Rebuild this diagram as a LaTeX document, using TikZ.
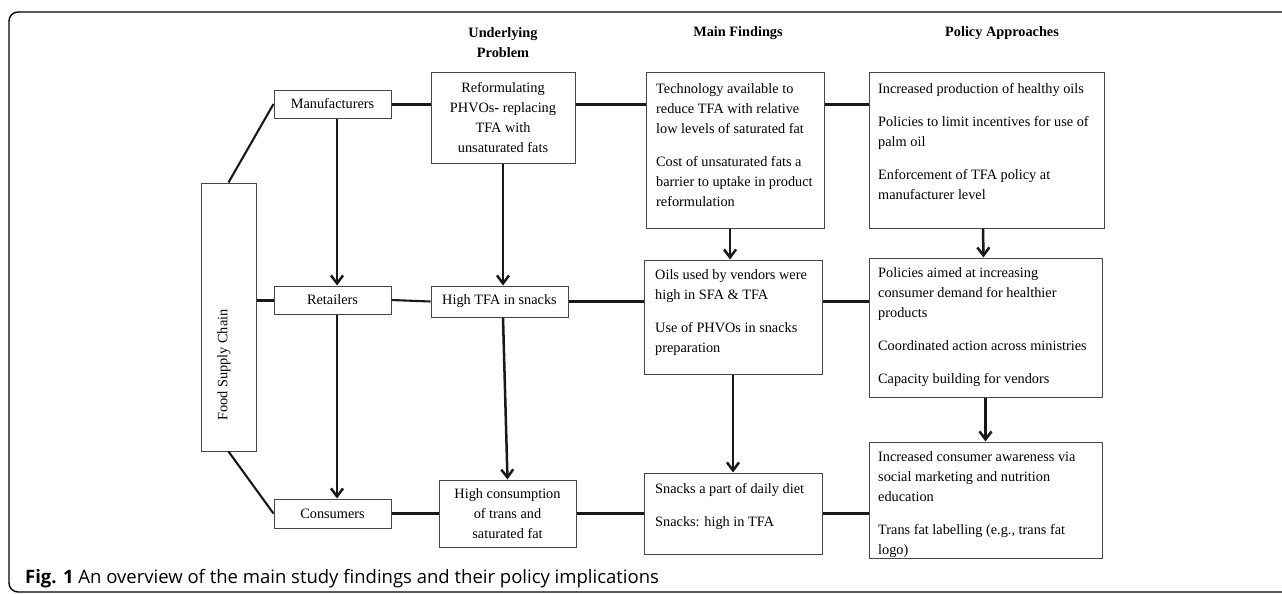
\documentclass[tikz,border=0pt]{standalone}
\usepackage{fontspec}
\setmainfont{Liberation Serif}
\newfontfamily\capfont{Open Sans}
\usetikzlibrary{arrows.meta,calc}
\newcommand\mkbox[6][]{\node[box,#1,minimum width={#4-#2},minimum height={#6-#3}] (#5) at ({(#2+#4)/2},{(#3+#6)/2})}
\begin{document}
\begin{tikzpicture}[x=1pt,y=-1pt,
  box/.style={draw=black!72,line width=1pt,inner sep=0pt,align=center,font=\fontsize{14.3}{20}\selectfont},
  txt/.style={inner sep=0pt,font=\fontsize{14.3}{20}\selectfont,align=left},
  ttl/.style={inner sep=0pt,font=\fontsize{14.3}{20}\selectfont\bfseries,align=center},
  conn/.style={line width=3pt,draw=black!90},
  thinconn/.style={line width=2.1pt,draw=black!90},
  arr/.style={line width=2.5pt,draw=black!90,-{Straight Barb[length=8pt,width=12pt]}}
]
\useasboundingbox (0,0) rectangle (1282,594);
\draw[line width=1.4pt,rounded corners=9pt] (9,12) rectangle (1300,592);

% titles
\node[ttl] (t1) at (503,43) {Underlying\\Problem};
\node[ttl] (t2) at (738,33) {Main Findings};
\node[ttl] (t3) at (1002,33) {Policy Approaches};

% boxes
\mkbox{274}{90}{391}{manu}{118} {Manufacturers};
\mkbox{431}{73}{575}{reform}{163} {Reformulating\\PHVOs{\bfseries-} replacing\\TFA with\\unsaturated fats};
\mkbox{646}{73}{824}{tech}{228} {};
\mkbox{869}{73}{1104}{pol1}{228} {};
\mkbox{201}{183}{256}{fsc}{451} {};
\mkbox{274}{286}{391}{ret}{314} {Retailers};
\mkbox{431}{286}{568}{hitfa}{317} {High TFA in snacks};
\mkbox{644}{260}{822}{oils}{374} {};
\mkbox{869}{258}{1102}{pol2}{397} {};
\mkbox{274}{499}{391}{cons}{528} {Consumers};
\mkbox{439}{480}{576}{hicons}{547} {High consumption\\of trans and\\saturated fat};
\mkbox{644}{473}{822}{snacks}{554} {};
\mkbox{869}{442}{1102}{pol3}{558} {};

% texts inside boxes
\node[txt,anchor=north west] (techt) at (656,83.7) {Technology available to\\reduce TFA with relative\\low levels of saturated fat\\[13pt]Cost of unsaturated fats a\\barrier to uptake in product\\reformulation};
\node[txt,anchor=north west] (pol1t) at (878,83.7) {Increased production of healthy oils\\[13pt]Policies to limit incentives for use of\\palm oil\\[13pt]Enforcement of TFA policy at\\manufacturer level};
\node[txt,anchor=north west] (oilst) at (655,269.7) {Oils used by vendors were\\high in SFA \& TFA\\[13pt]Use of PHVOs in snacks\\preparation};
\node[txt,anchor=north west] (pol2t) at (878,267.7) {Policies aimed at increasing\\consumer demand for healthier\\products\\[13pt]Coordinated action across ministries\\[13pt]Capacity building for vendors};
\node[txt,anchor=north west] (snackst) at (655,483.7) {Snacks a part of daily diet\\[13pt]Snacks: high in TFA};
\node[txt,anchor=north west] (pol3t) at (878,451.7) {Increased consumer awareness via\\social marketing and nutrition\\education\\[13pt]Trans fat labelling (e.g., trans fat\\logo)};
\node[txt,rotate=90] (fsct) at (224,365) {Food Supply Chain};

% connectors
\draw[conn] (manu.east) -- (reform.west |- manu.east);
\draw[conn] (reform.east |- manu.east) -- (tech.west |- manu.east);
\draw[conn] (tech.east |- manu.east) -- (pol1.west |- manu.east);
\draw[thinconn] (fsc.north) -- (manu.west);
\draw[conn] (fsc.east |- ret.west) -- (ret.west);
\draw[thinconn] (fsc.south) -- (cons.west);
\draw[thinconn] (ret.east) -- (hitfa.west);
\draw[thinconn] (hitfa.east) -- (oils.west |- hitfa.east);
\draw[conn] (oils.east |- hitfa.east) -- (pol2.west |- hitfa.east);
\draw[conn] (cons.east) -- (hicons.west |- cons.east);
\draw[conn] (hicons.east |- cons.east) -- (snacks.west |- cons.east);
\draw[conn] (snacks.east) -- (pol3.west |- snacks.east);

% arrows
\draw[arr] ([xshift=4.5pt]manu.south) -- ([xshift=4.5pt]ret.north);
\draw[arr] (reform.south) -- (reform.south |- hitfa.north);
\draw[arr] ([xshift=4.5pt]ret.south) -- ([xshift=4.5pt]cons.north);
\draw[arr] (reform.south |- hitfa.south) -- (hicons.north);
\draw[arr] ([xshift=-5pt]tech.south) -- ([xshift=-3pt]oils.north);
\draw[arr] ([xshift=-3.5pt]pol1.south) -- ([xshift=-2pt]pol2.north);
\draw[arr] (oils.south) -- (snacks.north);
\draw[arr] (pol2.south) -- (pol3.north);

% caption
\node[anchor=base west,inner sep=0pt,font=\capfont\fontsize{18.5}{22}\selectfont] (cap) at (25,583) {\textbf{Fig. 1} An overview of the main study findings and their policy implications};
\end{tikzpicture}
\end{document}
